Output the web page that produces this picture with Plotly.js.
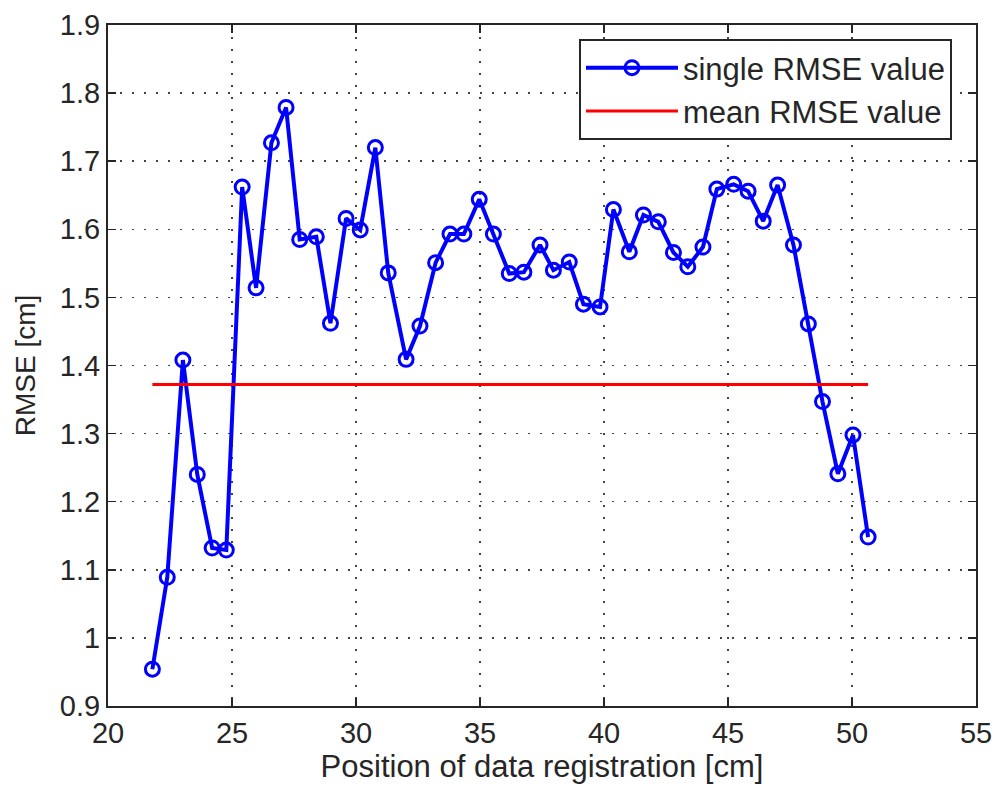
<!DOCTYPE html>
<html>
<head>
<meta charset="utf-8">
<script src="https://cdn.plot.ly/plotly-3.0.1.min.js"></script>
<style>
  html, body { margin: 0; padding: 0; background: #fff; }
  #chart { width: 995px; height: 789px; }
</style>
</head>
<body>
<div id="chart"></div>
<script>
// Position of data registration [cm]
const positions = [21.79, 22.39, 23.02, 23.60, 24.20, 24.77, 25.41, 25.97, 26.59, 27.18,
                   27.73, 28.40, 28.97, 29.60, 30.17, 30.78, 31.30, 32.02, 32.58, 33.21,
                   33.79, 34.35, 34.97, 35.54, 36.18, 36.77, 37.42, 37.96, 38.60, 39.17,
                   39.84, 40.38, 41.02, 41.59, 42.19, 42.80, 43.38, 43.99, 44.55, 45.23,
                   45.81, 46.42, 47.00, 47.64, 48.24, 48.81, 49.43, 50.04, 50.65];
// single RMSE value [cm]
const rmseValues = [0.954, 1.089, 1.408, 1.240, 1.132, 1.129, 1.662, 1.514, 1.727, 1.779,
                    1.585, 1.589, 1.462, 1.616, 1.599, 1.720, 1.536, 1.409, 1.458, 1.551,
                    1.593, 1.593, 1.644, 1.593, 1.535, 1.537, 1.577, 1.540, 1.552, 1.490,
                    1.486, 1.629, 1.567, 1.621, 1.611, 1.566, 1.545, 1.574, 1.659, 1.666,
                    1.656, 1.612, 1.665, 1.577, 1.461, 1.347, 1.241, 1.298, 1.148];
// mean RMSE value [cm]
const meanRmse = 1.372;
const meanX = [positions[0], positions[positions.length - 1]];
const meanY = [meanRmse, meanRmse];

const xTicks = [20, 25, 30, 35, 40, 45, 50, 55];
const yTicks = [0.9, 1, 1.1, 1.2, 1.3, 1.4, 1.5, 1.6, 1.7, 1.8, 1.9];
const yTickText = ['0.9', '1', '1.1', '1.2', '1.3', '1.4', '1.5', '1.6', '1.7', '1.8', '1.9'];

const FONT = 'Liberation Sans, Arial, Helvetica, sans-serif';
const TXT = '#262626';

const traces = [
  {
    x: positions, y: rmseValues, type: 'scatter', mode: 'lines+markers',
    name: 'single RMSE value',
    line: { color: '#0000ff', width: 4 },
    marker: { symbol: 'circle-open', size: 14, color: '#0000ff', line: { width: 3, color: '#0000ff' } }
  },
  {
    x: meanX, y: meanY, type: 'scatter', mode: 'lines',
    name: 'mean RMSE value',
    line: { color: '#ff0000', width: 3 }
  }
];

const axisCommon = {
  showline: true, linecolor: '#262626', linewidth: 2, mirror: 'ticks',
  ticks: 'inside', ticklen: 8, tickwidth: 1.5, tickcolor: '#262626',
  showgrid: true, gridcolor: '#444', gridwidth: 1.5, griddash: '2px,10px',
  zeroline: false,
  tickfont: { family: FONT, size: 29, color: TXT }
};

const layout = {
  width: 995, height: 789,
  margin: { l: 108, r: 19, t: 25, b: 83 },
  paper_bgcolor: '#fff', plot_bgcolor: '#fff',
  showlegend: true,
  font: { family: FONT, color: TXT },
  xaxis: Object.assign({}, axisCommon, {
    range: [20, 55], tickvals: xTicks, ticktext: xTicks.map(String),
    title: { text: 'Position of data registration [cm]', font: { family: FONT, size: 31, color: TXT }, standoff: 4 }
  }),
  yaxis: Object.assign({}, axisCommon, {
    range: [0.9, 1.9], tickvals: yTicks, ticktext: yTickText,
    title: { text: 'RMSE [cm]', font: { family: FONT, size: 28, color: TXT }, standoff: 16 }
  }),
  legend: {
    x: 0.5426, y: 0.9794, xanchor: 'left', yanchor: 'top',
    bgcolor: '#fff', bordercolor: '#262626', borderwidth: 2,
    font: { family: FONT, size: 31, color: TXT },
    itemwidth: 92, tracegroupgap: 0
  }
};

Plotly.newPlot('chart', traces, layout, { displayModeBar: false, staticPlot: true });
</script>
</body>
</html>
